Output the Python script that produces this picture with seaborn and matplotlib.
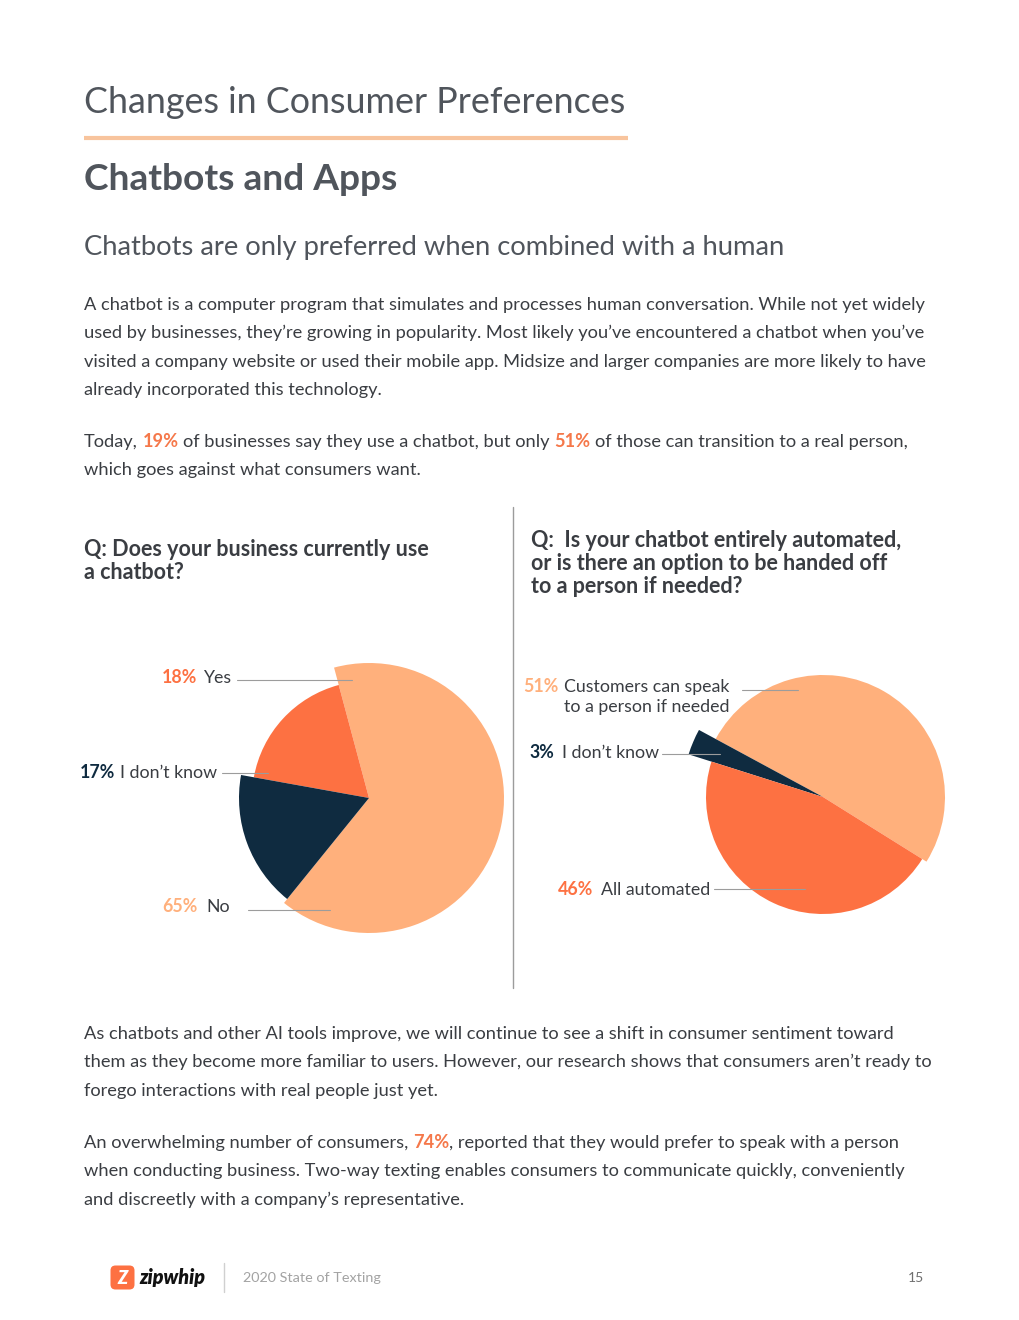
import matplotlib
matplotlib.use("Agg")
import matplotlib.pyplot as plt
from matplotlib.patches import FancyBboxPatch
import seaborn as sns

# ---- data -------------------------------------------------------------
q1_labels = ["No", "Yes", "I don’t know"]
q1_values = [65, 18, 17]

q2_labels = ["Customers can speak\nto a person if needed", "I don’t know", "All automated"]
q2_values = [51, 3, 46]

# body copy, one entry per printed line; True marks highlighted bits
para1 = [
    [("A chatbot is a computer program that simulates and processes human conversation. While not yet widely", False)],
    [("used by businesses, they’re growing in popularity. Most likely you’ve encountered a chatbot when you’ve", False)],
    [("visited a company website or used their mobile app. Midsize and larger companies are more likely to have", False)],
    [("already incorporated this technology.", False)],
]
para2 = [
    [("Today,", False), (" 19%", True), (" of businesses say they use a chatbot, but only", False),
     (" 51%", True), (" of those can transition to a real person,", False)],
    [("which goes against what consumers want.", False)],
]
para3 = [
    [("As chatbots and other AI tools improve, we will continue to see a shift in consumer sentiment toward", False)],
    [("them as they become more familiar to users. However, our research shows that consumers aren’t ready to", False)],
    [("forego interactions with real people just yet.", False)],
]
para4 = [
    [("An overwhelming number of consumers,", False), (" 74%", True),
     (", reported that they would prefer to speak with a person", False)],
    [("when conducting business. Two-way texting enables consumers to communicate quickly, conveniently", False)],
    [("and discreetly with a company’s representative.", False)],
]

# ---- style ------------------------------------------------------------
sns.set_theme(style="white")
plt.rcParams['font.family'] = ['Lato', 'DejaVu Sans']

LIGHT, ORANGE, NAVY = "#ffb07c", "#fd7142", "#0f2b40"
HEAD = "#50555c"
BODY = "#3a3d42"
HILITE = "#f5784a"
GREY = "#9c9c9c"

W, H = 1020, 1320
fig = plt.figure(figsize=(W / 100, H / 100), dpi=100)
fig.patch.set_facecolor("white")

ax = fig.add_axes([0, 0, 1, 1], zorder=2)
ax.set_xlim(0, W)
ax.set_ylim(H, 0)
ax.axis("off")
ax.patch.set_alpha(0)
renderer = fig.canvas.get_renderer()


def text_w(s, size, weight="normal", style="normal"):
    t = ax.text(0, 0, s, fontsize=size, fontweight=weight, fontstyle=style)
    w = t.get_window_extent(renderer).width
    t.remove()
    return w


def fit(s, width, weight="normal", style="normal"):
    return 20 * width / text_w(s, 20, weight, style)


def put_line(x, y, parts, size, color=BODY, weight="normal"):
    space = text_w("a a", size) - text_w("aa", size)
    for txt, hi in parts:
        if txt.startswith(" "):
            x += space
            txt = txt[1:]
        t = ax.text(x, y, txt, fontsize=size, va="baseline",
                    color=HILITE if hi else color,
                    fontweight="bold" if hi else weight)
        x += t.get_window_extent(renderer).width


# ---- headings ---------------------------------------------------------
title = "Changes in Consumer Preferences"
ax.text(84, 113, title, fontsize=fit(title, 543), color=HEAD, va="baseline")
ax.plot([84, 628], [138, 138], color="#f8c49d", lw=3, solid_capstyle="butt")

head = "Chatbots and Apps"
ax.text(84, 190, head, fontsize=fit(head, 314, "bold"), fontweight="bold",
        color=HEAD, va="baseline")

sub = "Chatbots are only preferred when combined with a human"
ax.text(84, 255, sub, fontsize=fit(sub, 704), color=HEAD, va="baseline")

body_size = fit(para1[0][0][0], 842)
step = 28.4
for i, line in enumerate(para1):
    put_line(84, 310 + i * step, line, body_size)
for i, line in enumerate(para2):
    put_line(84, 447 + i * step, line, body_size)
for i, line in enumerate(para3):
    put_line(84, 1039 + i * step, line, body_size)
for i, line in enumerate(para4):
    put_line(84, 1148 + i * step, line, body_size)

# ---- questions --------------------------------------------------------
q1 = ["Q: Does your business currently use", "a chatbot?"]
q2 = ["Q:  Is your chatbot entirely automated,", "or is there an option to be handed off",
      "to a person if needed?"]
q_size = fit(q2[0], 371, "bold")
for i, s in enumerate(q1):
    ax.text(84, 556 + i * 23, s, fontsize=q_size, fontweight="bold", color=BODY, va="baseline")
for i, s in enumerate(q2):
    ax.text(531, 547 + i * 23, s, fontsize=q_size, fontweight="bold", color=BODY, va="baseline")

ax.plot([513, 513], [507, 988], color=GREY, lw=1)


# ---- pies -------------------------------------------------------------
def draw_pie(center, values, colors, radii, start):
    size = 2 * max(radii) + 30
    pax = fig.add_axes([(center[0] - size / 2) / W, 1 - (center[1] + size / 2) / H,
                        size / W, size / H], zorder=1)
    wedges, _ = pax.pie(values, colors=colors, startangle=start, counterclock=True,
                        wedgeprops=dict(linewidth=0))
    for w, r in zip(wedges, radii):
        w.set_radius(r)
    pax.set_xlim(-size / 2, size / 2)
    pax.set_ylim(-size / 2, size / 2)
    pax.set_aspect("equal")
    pax.axis("off")


draw_pie((369, 798), q1_values, [LIGHT, ORANGE, NAVY], [135, 117, 130], -129)
draw_pie((823, 797), q2_values, [LIGHT, NAVY, ORANGE], [122, 141, 117], -32)

# ---- slice labels -----------------------------------------------------
lab_size = fit("Customers can speak", 166)


def slice_label(xp, xn, y, value, name, color, line):
    ax.text(xp, y, f"{value}%", fontsize=lab_size, fontweight="bold", color=color, va="baseline")
    ax.text(xn, y, name, fontsize=lab_size, color=BODY, va="baseline")
    ax.plot(line[:2], [line[2], line[2]], color=GREY, lw=0.8)


slice_label(162, 203, 683, q1_values[1], q1_labels[1], ORANGE, (237, 352, 680))
slice_label(80, 120, 778, q1_values[2], q1_labels[2], NAVY, (222, 268, 773))
slice_label(162, 206, 912, q1_values[0], q1_labels[0], LIGHT, (248, 330, 910))

cust = q2_labels[0].split("\n")
slice_label(523, 564, 692, q2_values[0], cust[0], LIGHT, (742, 798, 690))
ax.text(564, 712, cust[1], fontsize=lab_size, color=BODY, va="baseline")
slice_label(529, 562, 758, q2_values[1], q2_labels[1], NAVY, (662, 720, 754))
slice_label(558, 601, 895, q2_values[2], q2_labels[2], ORANGE, (714, 805, 889))

# ---- footer -----------------------------------------------------------
ax.add_patch(FancyBboxPatch((112, 1267), 21, 21, boxstyle="round,pad=1.5,rounding_size=5",
                            fc=ORANGE, ec="none"))
ax.text(122.5, 1278, "Z", fontsize=13, fontweight="heavy", fontstyle="italic",
        color="white", ha="center", va="center")
ax.text(139, 1284, "zipwhip", fontsize=fit("zipwhip", 66, "heavy", "italic"),
        fontweight="heavy", fontstyle="italic", color="#111111", va="baseline")
ax.plot([224, 224], [1263, 1292], color="#d0d0d0", lw=1)
foot = "2020 State of Texting"
ax.text(243, 1282, foot, fontsize=fit(foot, 138), color="#a3a3a3", va="baseline")
ax.text(924, 1282, "15", fontsize=10, color="#6f6f6f", ha="right", va="baseline")

fig.savefig("out.png", dpi=100, facecolor="white")
